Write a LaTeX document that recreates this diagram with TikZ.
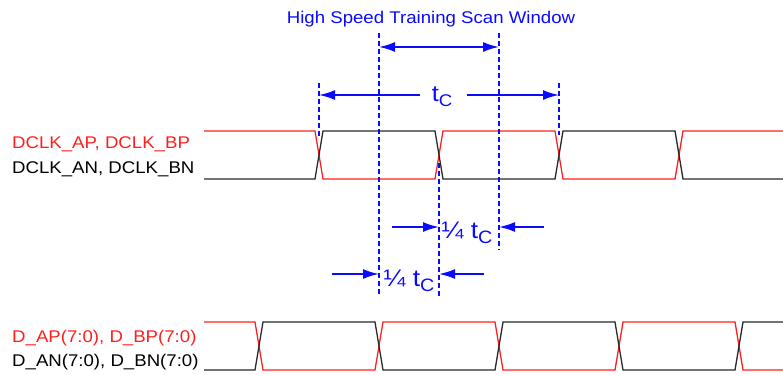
\documentclass[tikz,border=0pt]{standalone}
\usepackage{fontspec}
\setmainfont{Liberation Sans}[FakeStretch=1.1]
\usetikzlibrary{arrows.meta}

\definecolor{sigred}{RGB}{255,30,30}
\definecolor{sigblack}{RGB}{40,40,40}
\definecolor{dimblue}{RGB}{10,10,255}

\newcommand\tcyc[1]{t\raisebox{-5bp}{\fontsize{#1}{#1}\selectfont C}}

\begin{document}
\begin{tikzpicture}[x=1bp,y=-1bp,>={Latex[length=16bp,width=10bp]},
                    line join=miter]

  \tikzstyle{pwave}=[draw=sigred,line width=1.3bp]
  \tikzstyle{nwave}=[draw=sigblack,line width=1.3bp]
  \tikzstyle{guide}=[draw=dimblue,line width=1.2bp,dash pattern=on 5bp off 3bp]
  \tikzstyle{dim}=[draw=dimblue,line width=1.8bp]
  \tikzstyle{lbl}=[inner sep=0pt,anchor=base west,font=\fontsize{17}{20}\selectfont]
  \tikzstyle{tlbl}=[inner sep=0pt,anchor=base,text=dimblue]

  \useasboundingbox (0,0) rectangle (783,374);

  % signal names
  \node[lbl,text=sigred]   (clkp) at (12,148) {DCLK\_AP, DCLK\_BP};
  \node[lbl,text=black]    (clkn) at (12,173) {DCLK\_AN, DCLK\_BN};
  \node[lbl,text=sigred]   (datp) at (12,342) {D\_AP(7:0), D\_BP(7:0)};
  \node[lbl,text=black]    (datn) at (12,366) {D\_AN(7:0), D\_BN(7:0)};

  % clock pair
  \draw[pwave] (204,131) -- (315,131) -- (323,179) -- (435,179) -- (443,131)
               -- (555,131) -- (563,179) -- (675,179) -- (683,131) -- (783,131);
  \draw[nwave] (204,179) -- (315,179) -- (323,131) -- (435,131) -- (443,179)
               -- (555,179) -- (563,131) -- (675,131) -- (683,179) -- (783,179);

  % data pair
  \draw[pwave] (204,322) -- (255,322) -- (263,370) -- (375,370) -- (383,322)
               -- (495,322) -- (503,370) -- (615,370) -- (623,322) -- (735,322)
               -- (743,370) -- (783,370);
  \draw[nwave] (204,370) -- (255,370) -- (263,322) -- (375,322) -- (383,370)
               -- (495,370) -- (503,322) -- (615,322) -- (623,370) -- (735,370)
               -- (743,322) -- (783,322);

  % guide lines
  \coordinate (winL-t) at (379,33);  \coordinate (winL-b) at (379,297);
  \coordinate (winR-t) at (499,33);  \coordinate (winR-b) at (499,250);
  \coordinate (mid-t)  at (439,163); \coordinate (mid-b)  at (439,297);
  \coordinate (cycL-t) at (319,83);  \coordinate (cycL-b) at (319,136);
  \coordinate (cycR-t) at (559,83);  \coordinate (cycR-b) at (559,135);

  \draw[guide] (winL-t) -- (winL-b);
  \draw[guide] (winR-t) -- (winR-b);
  \draw[guide] (mid-t)  -- (mid-b);
  \draw[guide] (cycL-t) -- (cycL-b);
  \draw[guide] (cycR-t) -- (cycR-b);

  % scan window
  \node[tlbl,font=\fontsize{17}{20}\selectfont] (title) at (431,23)
       {High Speed Training Scan Window};
  \coordinate (win-l) at (379,47);
  \coordinate (win-r) at (499,47);
  \path (win-l) edge[dim,<->] (win-r);

  % clock period
  \node[tlbl,font=\fontsize{23}{26}\selectfont] (tc) at (442,101) {\tcyc{17}};
  \coordinate (tc-l)  at (319,95);  \coordinate (tc-gl) at (420,95);
  \coordinate (tc-r)  at (559,95);  \coordinate (tc-gr) at (467,95);
  \path (tc-gl) edge[dim,->] (tc-l)
        (tc-gr) edge[dim,->] (tc-r);

  % quarter period, upper
  \node[tlbl,font=\fontsize{24}{27}\selectfont] (qa) at (467,238) {¼ \tcyc{18}};
  \coordinate (qa-l)  at (439,227); \coordinate (qa-ol) at (392,227);
  \coordinate (qa-r)  at (499,227); \coordinate (qa-or) at (544,227);
  \path (qa-ol) edge[dim,->] (qa-l)
        (qa-or) edge[dim,->] (qa-r);

  % quarter period, lower
  \node[tlbl,font=\fontsize{24}{27}\selectfont] (qb) at (409,286) {¼ \tcyc{18}};
  \coordinate (qb-l)  at (379,274); \coordinate (qb-ol) at (332,274);
  \coordinate (qb-r)  at (439,274); \coordinate (qb-or) at (484,274);
  \path (qb-ol) edge[dim,->] (qb-l)
        (qb-or) edge[dim,->] (qb-r);
\end{tikzpicture}
\end{document}
